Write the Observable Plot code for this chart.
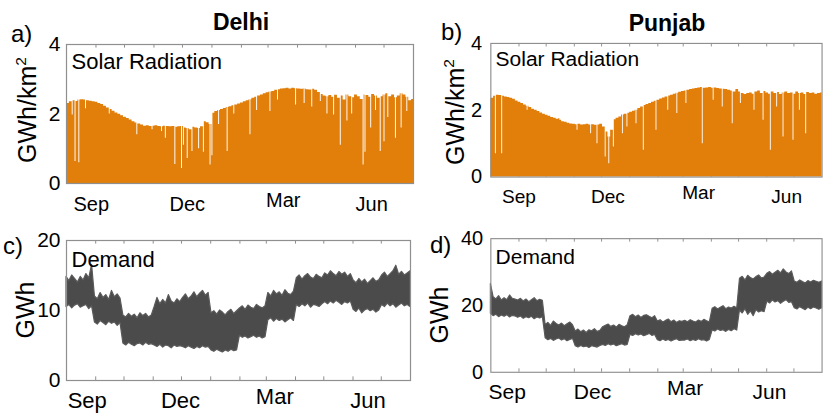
<!DOCTYPE html>
<html><head><meta charset="utf-8">
<script src="https://cdn.jsdelivr.net/npm/d3@7"></script>
<script src="https://cdn.jsdelivr.net/npm/@observablehq/plot@0.6"></script>
<style>
body{margin:0;background:#fff;}
#wrap{position:relative;width:834px;height:414px;overflow:hidden;background:#fff;font-family:"Liberation Sans",Arial,Helvetica,sans-serif;color:#000;}
.panel{position:absolute;}
.lbl{position:absolute;white-space:nowrap;line-height:1;}
.rot{transform:translate(-50%,-50%) rotate(-90deg);}
sup{font-size:0.62em;vertical-align:0.6em;line-height:0;}
</style></head><body><div id="wrap"></div>
<script>
// x axis: day index counted from 1 August (0 .. 365)
const monthStarts = [31, 61, 92, 122, 153, 184, 212, 243, 273, 304, 334];
const xLabels = ["Sep", "Dec", "Mar", "Jun"];
const labelDaysA = [26, 127, 228, 321];
const labelDaysB = [31, 129, 229, 326];
const labelDaysC = [22, 121, 221, 320];
const labelDaysD = [18, 112, 214, 307];

// Solar radiation, envelope of daily peaks, 122 bins of ~3 days (GWh/km2)
const solarDelhi = [
 2.30,2.35,2.38,2.36,2.40,2.41,2.40,2.38,2.37,2.35,
 2.34,2.30,2.27,2.22,2.17,2.13,2.08,2.03,1.99,1.95,
 1.91,1.87,1.83,1.78,1.74,1.71,1.68,1.65,1.66,1.64,
 1.65,1.66,1.64,1.63,1.65,1.64,1.63,1.64,1.62,1.63,
 1.64,1.60,1.58,1.55,1.62,1.60,1.58,1.63,1.78,1.75,
 1.70,2.02,2.07,2.10,2.13,2.16,2.19,2.21,2.24,2.26,
 2.29,2.32,2.35,2.38,2.41,2.45,2.48,2.52,2.55,2.58,
 2.61,2.63,2.65,2.68,2.70,2.72,2.73,2.74,2.72,2.74,
 2.73,2.72,2.71,2.72,2.70,2.69,2.71,2.68,2.62,2.56,
 2.52,2.50,2.53,2.48,2.54,2.45,2.52,2.40,2.55,2.50,
 2.47,2.55,2.50,2.42,2.55,2.53,2.48,2.56,2.52,2.45,
 2.50,2.55,2.58,2.50,2.55,2.47,2.52,2.58,2.55,2.48,
 2.38,2.42];
const solarPunjab = [
 2.36,2.42,2.45,2.44,2.42,2.40,2.38,2.36,2.33,2.28,
 2.24,2.20,2.16,2.12,2.08,2.03,2.00,1.96,1.92,1.88,
 1.85,1.82,1.78,1.76,1.73,1.70,1.66,1.64,1.61,1.59,
 1.58,1.57,1.58,1.56,1.57,1.58,1.56,1.57,1.55,1.56,
 1.58,1.50,1.35,1.20,1.40,1.72,1.76,1.80,1.86,1.88,
 1.91,1.94,1.97,2.00,2.05,2.10,2.14,2.17,2.20,2.24,
 2.27,2.30,2.34,2.37,2.40,2.43,2.45,2.48,2.51,2.54,
 2.56,2.58,2.60,2.62,2.64,2.65,2.67,2.68,2.66,2.67,
 2.68,2.66,2.67,2.65,2.64,2.63,2.62,2.60,2.58,2.55,
 2.62,2.55,2.50,2.47,2.50,2.52,2.48,2.55,2.58,2.50,
 2.56,2.52,2.48,2.55,2.50,2.53,2.47,2.52,2.55,2.50,
 2.52,2.48,2.55,2.50,2.52,2.47,2.53,2.50,2.52,2.48,
 2.50,2.52];
// cloudy days: [day, peak]
const dipsDelhi = [[6,1.97],[9,0.63],[13,0.6],[20,2.15],[45,2.0],[60,1.9],[74,1.4],[90,1.55],[100,1.5],
 [104,1.3],[114,0.55],[121,0.43],[123,1.1],[127,0.72],[132,0.92],[139,1.0],[144,0.9],[151,0.53],[153,0.8],
 [160,1.7],[169,0.92],[176,2.0],[193,1.4],[200,2.1],[214,2.07],[222,2.4],[241,2.26],[250,2.3],[258,2.2],
 [267,2.36],[274,2.0],[281,1.97],[288,1.1],[295,1.8],[300,2.0],[312,0.53],[314,0.9],[320,1.6],[325,2.1],
 [330,0.92],[334,1.2],[338,1.9],[346,1.3],[352,1.6],[358,2.07]];
const dipsPunjab = [[5,0.7],[12,0.7],[40,2.0],[75,1.75],[95,1.4],[110,1.3],[117,1.0],[126,0.6],[130,0.4],
 [135,0.9],[145,1.3],[150,1.5],[160,1.6],[168,0.8],[182,1.4],[195,2.0],[205,1.9],[215,2.2],[233,1.0],
 [245,2.3],[255,2.1],[266,1.6],[275,2.2],[290,2.0],[300,1.7],[308,0.8],[315,2.1],[322,1.2],[333,1.1],
 [340,2.0],[347,1.3]];

// Demand band, 122 bins of ~3 days (GWh): low / high
const demandDelhiHigh = [
 14.8,14.2,15.0,14.5,14.0,14.8,14.3,15.2,14.6,16.5,
 12.0,11.6,12.5,11.8,12.2,11.5,12.8,11.9,12.3,11.7,
 9.3,9.0,9.5,9.1,9.4,8.9,9.6,9.2,9.5,9.0,9.3,
 10.5,11.8,10.9,11.5,11.0,12.2,11.3,11.0,11.6,11.2,
 11.8,12.3,11.6,12.0,12.6,11.9,12.4,12.8,12.1,12.5,
 9.6,9.9,9.4,10.0,9.7,9.3,9.8,10.1,9.5,9.9,
 10.3,10.6,10.1,10.7,10.4,10.2,10.8,10.5,10.3,10.6,
 12.5,12.0,12.8,12.3,12.6,12.1,12.9,12.4,12.2,12.7,
 14.6,15.0,14.4,14.9,15.2,14.7,14.5,15.1,14.8,14.6,
 15.3,15.0,15.6,15.2,14.9,15.5,15.1,15.4,14.8,15.2,
 14.3,13.9,14.5,14.0,14.4,13.8,14.2,14.6,14.1,14.3,
 15.0,15.4,14.8,15.2,15.6,16.4,15.1,15.5,15.0,15.3,15.6];
const demandDelhiLow = [
 10.5,10.8,10.3,10.7,10.9,10.4,10.6,10.8,10.2,10.6,
 8.3,8.0,8.5,8.2,7.9,8.4,8.1,8.3,7.8,8.2,
 5.3,5.0,5.4,5.1,4.9,5.2,5.3,5.0,5.4,5.1,5.2,
 5.0,4.8,5.1,4.7,5.0,4.9,4.6,5.0,4.8,4.9,
 4.8,4.6,4.9,4.7,4.5,4.8,4.6,4.9,4.7,4.8,
 4.3,4.1,4.4,4.2,4.0,4.3,4.1,4.4,4.2,4.3,
 6.4,6.1,6.3,6.0,6.2,6.4,6.1,6.3,6.0,6.2,
 8.6,8.9,8.4,8.8,8.5,8.7,8.3,8.6,8.9,8.5,
 10.8,10.5,10.9,10.6,11.0,10.4,10.8,10.7,10.5,10.9,
 11.2,10.9,11.3,11.0,11.4,11.1,10.8,11.2,11.0,11.3,
 10.1,9.8,10.3,9.6,10.0,10.2,9.9,10.1,9.7,10.0,
 10.8,10.5,11.0,10.6,10.9,10.4,10.7,11.0,10.6,10.8,10.5];
const demandPunjabHigh = [
 26.5,22.5,21.8,22.8,21.5,22.2,21.6,23.0,22.0,21.8,
 21.5,22.0,21.2,21.8,21.0,21.6,22.2,21.3,21.7,21.4,
 14.2,14.8,13.9,15.2,14.5,14.0,14.6,13.8,14.4,14.9,14.1,
 12.2,12.8,12.0,12.5,11.8,12.6,12.3,12.9,12.1,12.4,
 13.5,13.9,14.3,13.6,14.0,13.4,14.2,13.8,13.5,14.1,
 16.8,17.2,16.5,17.0,16.3,16.9,17.1,16.6,16.2,16.8,
 15.2,15.6,14.9,15.4,15.8,15.0,15.5,14.8,15.3,15.1,
 15.4,15.0,15.6,15.2,14.9,15.5,15.1,15.7,15.3,15.0,
 19.0,19.5,18.8,19.3,19.8,18.9,19.4,19.1,19.6,19.2,
 28.0,28.6,27.5,28.9,28.2,27.8,28.5,29.0,28.1,28.4,
 29.5,30.0,29.2,29.8,30.4,29.6,30.8,29.9,29.4,30.2,
 27.2,26.8,27.5,27.0,26.6,27.3,26.9,27.4,27.1,26.8,27.2];
const demandPunjabLow = [
 17.5,16.8,17.2,16.5,17.0,16.6,17.1,16.4,16.9,16.7,
 16.3,16.7,16.0,16.5,16.2,16.6,15.9,16.4,16.1,16.5,
 10.2,9.6,10.0,9.4,9.8,10.1,9.5,9.9,9.3,9.7,10.0,
 7.8,7.4,7.9,7.5,7.7,7.3,7.8,7.6,7.4,7.9,
 8.2,7.9,8.4,8.0,8.3,7.8,8.1,8.4,8.0,8.2,
 11.2,10.9,11.4,11.0,11.3,10.8,11.1,11.5,10.9,11.2,
 9.6,9.3,9.8,9.4,9.7,9.2,9.6,9.9,9.4,9.5,
 9.5,9.8,9.3,9.7,9.4,9.9,9.5,9.6,9.2,9.7,
 12.5,12.2,12.8,12.4,12.6,12.1,12.7,12.3,12.9,12.5,
 18.5,17.6,18.9,17.2,18.2,16.8,18.6,17.9,18.3,18.0,
 21.2,20.6,21.5,20.9,21.3,20.5,21.1,21.6,20.8,21.0,
 19.2,18.8,19.5,19.0,18.6,19.3,18.9,19.4,19.1,18.7,19.2];

const ORANGE = "#E17F0A";
const GRAY = "#4b4b4b";
const FRAME = "#8f8f8f";
const FONT = '"Liberation Sans", Arial, Helvetica, sans-serif';

function solarDaily(env, dips) {
  const dm = new Map(dips);
  const out = [];
  for (let d = 0; d < 365; d++) out.push({day: d, v: dm.has(d) ? dm.get(d) : env[Math.min(env.length - 1, Math.floor(d / 3))]});
  out.push({day: 365, v: out[out.length - 1].v});
  return out;
}
function demandBins(low, high) {
  return low.map((l, i) => ({day: i * 365 / (low.length - 1), low: l, high: high[i]}));
}

const wrap = document.getElementById("wrap");

function panel(o) {
  const ymax = o.yticks[o.yticks.length - 1];
  const len = ymax * 0.026;
  const marks = [
    Plot.ruleX(monthStarts, {x: d => d, y1: ymax, y2: ymax - len, stroke: FRAME}),
    Plot.ruleX(monthStarts, {x: d => d, y1: 0, y2: len, stroke: FRAME})
  ];
  if (o.solar) {
    marks.push(Plot.areaY(o.solar, {x: "day", y: "v", curve: "step-after", fill: ORANGE}));
  } else {
    marks.push(Plot.areaY(o.demand, {x: "day", y1: "low", y2: "high", fill: GRAY, stroke: "#5a5a5a", strokeWidth: 1.2}));
  }
  marks.push(
    Plot.frame({stroke: FRAME, strokeWidth: 1.2}),
    Plot.axisY({ticks: o.yticks, tickFormat: d => String(d), tickSize: 0, tickPadding: o.tp, label: null, fontSize: 21}),
    Plot.text(xLabels.filter(d => d !== "Mar"), {x: d => o.labelDays[xLabels.indexOf(d)], frameAnchor: "bottom", lineAnchor: "top", dy: o.labelDy, fontSize: o.xfs}),
    Plot.text(["Mar"], {x: o.labelDays[2], frameAnchor: "bottom", lineAnchor: "top", dy: o.labelDy - 4, fontSize: o.xfs}),
    Plot.text([o.inner], {frameAnchor: "top-left", lineAnchor: "top", dx: 5, dy: o.innerDy, fontSize: 22})
  );
  const chart = Plot.plot({
    width: o.width, height: o.height,
    marginLeft: o.ml, marginRight: o.mr, marginTop: o.mt, marginBottom: o.mb,
    x: {domain: [0, 365], axis: null},
    y: {domain: [0, ymax], axis: null},
    style: {fontFamily: FONT, fontSize: "20px", color: "#000", background: "transparent", overflow: "visible"},
    marks
  });
  const div = document.createElement("div");
  div.className = "panel";
  div.style.left = o.left + "px";
  div.style.top = o.top + "px";
  div.appendChild(chart);
  wrap.appendChild(div);
}

panel({left: 0, top: 0, width: 420, height: 210, ml: 66, mr: 7, mt: 44, mb: 27, yticks: [0, 2, 4], tp: 6,
  solar: solarDaily(solarDelhi, dipsDelhi), labelDays: labelDaysA, labelDy: 13, xfs: 20, inner: "Solar Radiation", innerDy: 9});
panel({left: 414, top: 0, width: 440, height: 210, ml: 80, mr: 13, mt: 45, mb: 25, yticks: [0, 2, 4], tp: 9,
  solar: solarDaily(solarPunjab, dipsPunjab), labelDays: labelDaysB, labelDy: 13, xfs: 20, inner: "Solar Radiation", innerDy: 8});
panel({left: 0, top: 200, width: 420, height: 214, ml: 66, mr: 10, mt: 40, mb: 34, yticks: [0, 10, 20], tp: 6,
  demand: demandBins(demandDelhiLow, demandDelhiHigh), labelDays: labelDaysC, labelDy: 12, xfs: 22, inner: "Demand", innerDy: 11});
panel({left: 414, top: 200, width: 440, height: 214, ml: 80, mr: 13, mt: 40, mb: 34, yticks: [0, 20, 40], tp: 8,
  demand: demandBins(demandPunjabLow, demandPunjabHigh), labelDays: labelDaysD, labelDy: 12, xfs: 22, inner: "Demand", innerDy: 11});

function label(html, x, baseline, fs, opts = {}) {
  const d = document.createElement("div");
  d.className = "lbl";
  d.innerHTML = html;
  d.style.fontSize = fs + "px";
  if (opts.bold) d.style.fontWeight = "bold";
  d.style.left = x + "px";
  d.style.top = (baseline - 0.8465 * fs) + "px";
  if (opts.center) d.style.transform = "translateX(-50%)";
  wrap.appendChild(d);
}
function rotLabel(html, cx, cy, fs) {
  const d = document.createElement("div");
  d.className = "lbl rot";
  d.innerHTML = html;
  d.style.fontSize = fs + "px";
  d.style.left = cx + "px";
  d.style.top = cy + "px";
  wrap.appendChild(d);
}
label("a)", 11, 42, 24);
label("b)", 441, 40, 24);
label("c)", 3, 254, 24);
label("d)", 430, 253, 24);
label("Delhi", 241, 30, 23, {bold: true, center: true});
label("Punjab", 667, 31, 23, {bold: true, center: true});
rotLabel("GWh/km<sup>2</sup>", 27, 110, 25);
rotLabel("GWh/km<sup>2</sup>", 455, 112, 25);
rotLabel("GWh", 25, 310, 25);
rotLabel("GWh", 439, 315, 25);
</script></body></html>
